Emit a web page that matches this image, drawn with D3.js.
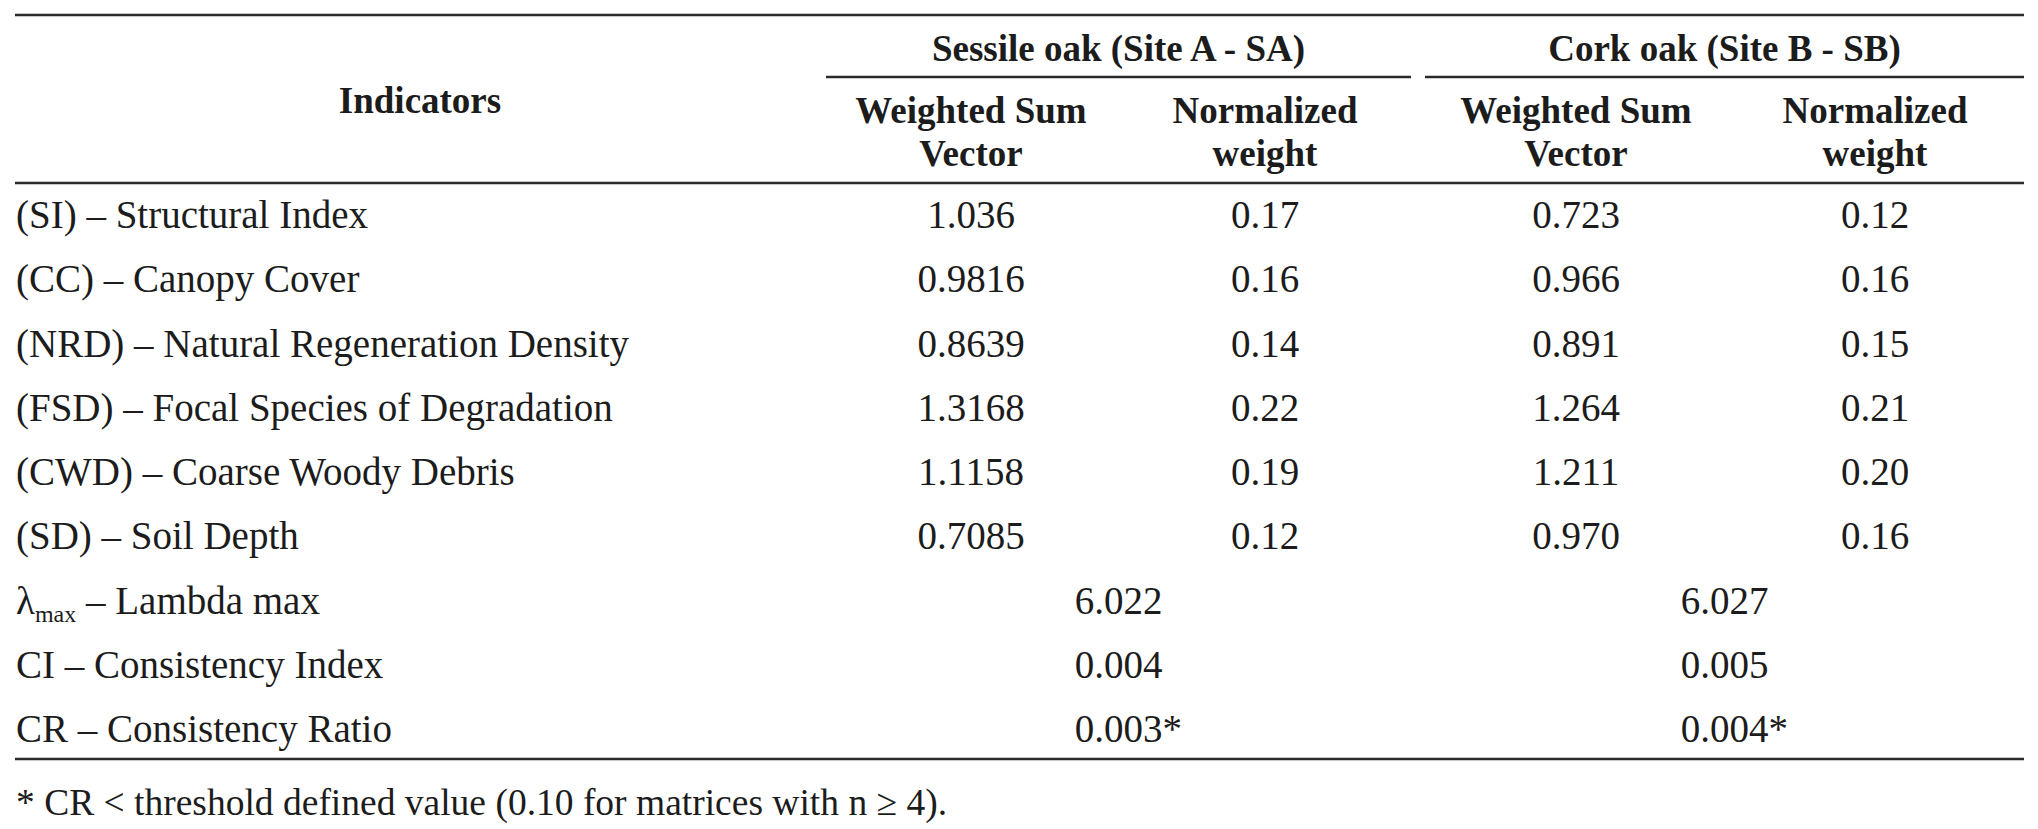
<!DOCTYPE html>
<html>
<head>
<meta charset="utf-8">
<script src="https://cdn.jsdelivr.net/npm/d3@7"></script>
<style>
  html, body { margin: 0; padding: 0; background: #fff; }
  svg text { font-family: "Liberation Serif", "Times New Roman", serif; fill: #1c1c1c; }
  .head { font-weight: bold; font-size: 37px; }
  .cell { font-size: 39px; }
  .note { font-size: 37.5px; }
  .rule { stroke: #2a2a2a; stroke-width: 2.6; }
</style>
</head>
<body>
<div id="table"></div>
<script>
// Row labels
const indicators = [
    "(SI) – Structural Index",
    "(CC) – Canopy Cover",
    "(NRD) – Natural Regeneration Density",
    "(FSD) – Focal Species of Degradation",
    "(CWD) – Coarse Woody Debris",
    "(SD) – Soil Depth"
];
const summaryLabels = ["Lambda max", "CI – Consistency Index", "CR – Consistency Ratio"];

// Column headers
const groups = ["Sessile oak (Site A - SA)", "Cork oak (Site B - SB)"];
const subHeaders = [["Weighted Sum", "Vector"], ["Normalized", "weight"]];

// Values per site
const saWeightedSum = ["1.036", "0.9816", "0.8639", "1.3168", "1.1158", "0.7085"];
const saNormWeight = [0.17, 0.16, 0.14, 0.22, 0.19, 0.12];
const sbWeightedSum = [0.723, 0.966, 0.891, 1.264, 1.211, 0.970];
const sbNormWeight = [0.12, 0.16, 0.15, 0.21, 0.20, 0.16];

const lambdaMax = [6.022, 6.027];
const consistencyIndex = [0.004, 0.005];
const consistencyRatio = [0.003, 0.004];

const footnote = "* CR < threshold defined value (0.10 for matrices with n ≥ 4).";

const width = 2038;
const height = 829;

const svg = d3.select("#table")
    .append("svg")
    .attr("width", width)
    .attr("height", height);

// Rows: 6 indicators + 3 summary rows
const rowKeys = d3.range(indicators.length + summaryLabels.length);
const y = d3.scalePoint().domain(rowKeys).range([228, 742]);

// Columns
const colKeys = ["saWS", "saNW", "sbWS", "sbNW"];
const x = d3.scaleOrdinal().domain(colKeys).range([971, 1265, 1576, 1875]);
const groupExtent = [[826, 1411], [1425, 2024]];
const groupCenter = groupExtent.map(g => (g[0] + g[1]) / 2);
const left = 15, right = 2024;

// Horizontal rules
const rules = [
    { x1: left, x2: right, y: 15 },
    { x1: groupExtent[0][0], x2: groupExtent[0][1], y: 77 },
    { x1: groupExtent[1][0], x2: groupExtent[1][1], y: 77 },
    { x1: left, x2: right, y: 183 },
    { x1: left, x2: right, y: 759 }
];
svg.selectAll("line.rule")
    .data(rules)
    .enter()
    .append("line")
    .attr("class", "rule")
    .attr("x1", d => d.x1)
    .attr("x2", d => d.x2)
    .attr("y1", d => d.y)
    .attr("y2", d => d.y);

// Header
svg.append("text")
    .attr("class", "head")
    .attr("x", 420)
    .attr("y", 113)
    .attr("text-anchor", "middle")
    .text("Indicators");

svg.selectAll("text.group")
    .data(groups)
    .enter()
    .append("text")
    .attr("class", "head group")
    .attr("x", (d, i) => groupCenter[i])
    .attr("y", 61)
    .attr("text-anchor", "middle")
    .text(d => d);

colKeys.forEach((k, i) => {
    const lines = subHeaders[i % 2];
    lines.forEach((t, j) => {
        svg.append("text")
            .attr("class", "head")
            .attr("x", x(k))
            .attr("y", 123 + j * 43)
            .attr("text-anchor", "middle")
            .text(t);
    });
});

// Indicator rows
const f2 = d3.format(".2f");
const f3 = d3.format(".3f");
const body = indicators.map((label, i) => ({
    label,
    cells: [saWeightedSum[i], f2(saNormWeight[i]), f3(sbWeightedSum[i]), f2(sbNormWeight[i])]
}));

const rows = svg.selectAll("g.row")
    .data(body)
    .enter()
    .append("g")
    .attr("class", "row")
    .attr("transform", (d, i) => `translate(0, ${y(i)})`);

rows.append("text")
    .attr("class", "cell")
    .attr("x", 16)
    .text(d => d.label);

rows.selectAll("text.val")
    .data(d => d.cells)
    .enter()
    .append("text")
    .attr("class", "cell val")
    .attr("x", (d, i) => x(colKeys[i]))
    .attr("text-anchor", "middle")
    .text(d => d);

// Summary rows (merged cells per site)
const lambdaLabel = svg.append("text")
    .attr("class", "cell")
    .attr("x", 16)
    .attr("y", y(6));
lambdaLabel.append("tspan").text("λ");
lambdaLabel.append("tspan").attr("font-size", 24).attr("dy", 8).text("max");
lambdaLabel.append("tspan").attr("dy", -8).text(" – " + summaryLabels[0]);

summaryLabels.slice(1).forEach((t, i) => {
    svg.append("text")
        .attr("class", "cell")
        .attr("x", 16)
        .attr("y", y(7 + i))
        .text(t);
});

const summary = [
    { row: 6, values: lambdaMax, star: false },
    { row: 7, values: consistencyIndex, star: false },
    { row: 8, values: consistencyRatio, star: true }
];
summary.forEach(s => {
    s.values.forEach((v, g) => {
        const t = svg.append("text")
            .attr("class", "cell")
            .attr("y", y(s.row))
            .text(f3(v));
        // centre the number itself, the star hangs to the right
        const w = t.node().getComputedTextLength();
        t.attr("x", groupCenter[g] - w / 2);
        if (s.star) t.append("tspan").text("*");
    });
});

// Footnote
svg.append("text")
    .attr("class", "note")
    .attr("x", 16)
    .attr("y", 815)
    .text(footnote);
</script>
</body>
</html>
